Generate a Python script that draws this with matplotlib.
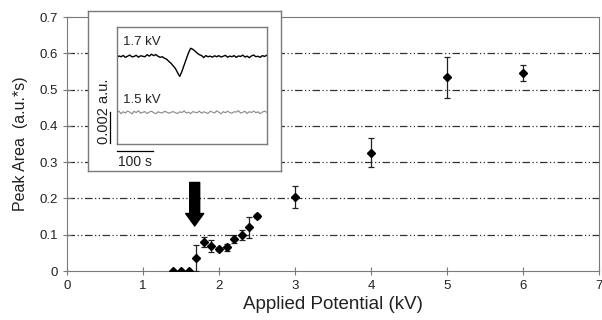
import numpy as np
import matplotlib
matplotlib.use('Agg')
import matplotlib.pyplot as plt

plt.rcParams['font.family'] = ['Liberation Sans', 'DejaVu Sans']

# main data: peak area vs applied potential
potential = [1.4, 1.5, 1.6, 1.7, 1.8, 1.9, 2.0, 2.1, 2.2, 2.3, 2.4, 2.5, 3.0, 4.0, 5.0, 6.0]
peak_area = [0.0, 0.0, 0.0, 0.037, 0.079, 0.069, 0.06, 0.065, 0.088, 0.099, 0.12, 0.152,
             0.205, 0.326, 0.534, 0.547]
peak_err = [0.0, 0.0, 0.0, 0.036, 0.014, 0.017, 0.005, 0.01, 0.01, 0.014, 0.028, 0.006,
            0.03, 0.04, 0.057, 0.022]

# inset traces (units of 1e-4 a.u.), one sample every 6 s
trace_17kv = [55.2, 56.3, 55.8, 56.6, 55.4, 56.1, 56.9, 55.7, 56.0, 56.7, 55.5, 56.4,
              56.1, 55.8, 57.1, 56.2, 57.4, 56.5, 57.2, 56.1, 55.4, 55.8, 54.8,
              54.2, 52.8, 51.6, 49.9, 48.3, 45.6, 43.2,
              46.4, 50.4, 54.3, 58.2, 61.2, 60.6,
              59.4, 58.2, 57.1, 56.6, 55.3, 56.5, 55.8,
              56.2, 55.5, 56.4, 55.8, 56.5, 55.6, 56.1, 56.7, 55.5, 56.2, 55.8, 56.5,
              55.4, 56.3, 56.0, 56.8, 55.6, 56.2, 55.2, 56.3, 56.9, 55.8, 56.1, 55.4,
              56.5, 56.0, 56.7]
trace_15kv = [20.0, 21.0, 19.4, 20.6, 19.8, 21.1, 20.4, 19.3, 20.9, 20.1, 21.3, 19.7,
              20.3, 20.7, 19.5, 20.4, 21.0, 20.0, 19.4, 20.6, 20.1, 19.8, 20.9, 20.4,
              19.7, 20.3, 20.7, 20.0, 19.5, 20.6, 20.1, 21.2, 19.8, 20.4, 19.4, 20.7,
              20.3, 20.0, 21.0, 19.7, 20.6, 20.1, 19.5, 20.9, 20.4, 19.8, 21.2, 20.3,
              19.3, 20.7, 20.0, 21.0, 20.1, 19.7, 20.6, 20.4, 21.3, 19.8, 20.3, 20.9,
              19.5, 20.7, 20.1, 21.1, 20.0, 20.6, 19.4, 20.4, 21.0, 20.3]
dt = 6.0

W, H = 602, 320
fig = plt.figure(figsize=(W / 100, H / 100), dpi=100)

def px_axes(x0, y0, x1, y1, **kw):
    # add axes given pixel box (top-left origin)
    return fig.add_axes([x0 / W, 1 - y1 / H, (x1 - x0) / W, (y1 - y0) / H], **kw)

spine_c = '#7a7a7a'
text_c = '#222222'

ax = px_axes(67, 17, 599, 271)
ax.set_xlim(0, 7)
ax.set_ylim(0, 0.7)
ax.set_yticks(np.arange(0, 0.71, 0.1))
ax.set_yticklabels(['0', '0.1', '0.2', '0.3', '0.4', '0.5', '0.6', '0.7'])
ax.set_xticks(range(8))
for s in ax.spines.values():
    s.set_color(spine_c)
ax.tick_params(colors=spine_c, labelcolor=text_c, labelsize=9.5, direction='inout', length=6)
for yv in np.arange(0.1, 0.65, 0.1):
    ax.axhline(yv, color='#333333', lw=0.9, dashes=(6, 2, 1, 2, 1, 2), zorder=1)

ax.errorbar(potential, peak_area, yerr=peak_err, fmt='D', color='black', ms=4.5,
            ecolor='#222222', elinewidth=0.9, capsize=2.5, capthick=0.9, zorder=3)

ax.annotate('', xy=(1.68, 0.124), xytext=(1.68, 0.244),
            arrowprops=dict(arrowstyle='simple,head_length=0.9,head_width=1.3,tail_width=0.72',
                            color='black', shrinkA=0, shrinkB=0))

ax.set_xlabel('Applied Potential (kV)', fontsize=13.5, color=text_c, labelpad=3)
ax.set_ylabel('Peak Area  (a.u.*s)', fontsize=11.5, color=text_c, labelpad=8)

# inset frame
box = px_axes(88, 11, 281, 171)
box.set_zorder(5)
box.set_facecolor('white')
box.set_xticks([])
box.set_yticks([])
for s in box.spines.values():
    s.set_color(spine_c)
    s.set_linewidth(1.0)

ins = px_axes(116.7, 26.7, 266.7, 144)
ins.set_zorder(6)
ins.set_facecolor('white')
t17 = np.arange(len(trace_17kv)) * dt
t15 = np.arange(len(trace_15kv)) * dt
ins.plot(t17, trace_17kv, color='black', lw=1.0)
ins.plot(t15, trace_15kv, color='#888888', lw=0.8)
ins.set_xlim(0, 414)
ins.set_ylim(0, 75)
ins.set_xticks([])
ins.set_yticks([])
for s in ins.spines.values():
    s.set_color(spine_c)
    s.set_linewidth(1.0)
ins.text(17, 65, '1.7 kV', fontsize=9.5, color=text_c, va='center', ha='left')
ins.text(17, 28.2, '1.5 kV', fontsize=9.5, color=text_c, va='center', ha='left')
# scale bars
ins.plot([0, 100], [-4.5, -4.5], color='black', lw=0.9, clip_on=False)
ins.text(50, -11.5, '100 s', fontsize=10, color=text_c, ha='center', va='center')
ins.plot([-18.5, -18.5], [0.6, 20.6], color='black', lw=0.9, clip_on=False)
ins.text(-36, 21, '0.002 a.u.', fontsize=10.5, color=text_c, ha='center', va='center',
         rotation=90)

fig.savefig('out.png', dpi=100)
